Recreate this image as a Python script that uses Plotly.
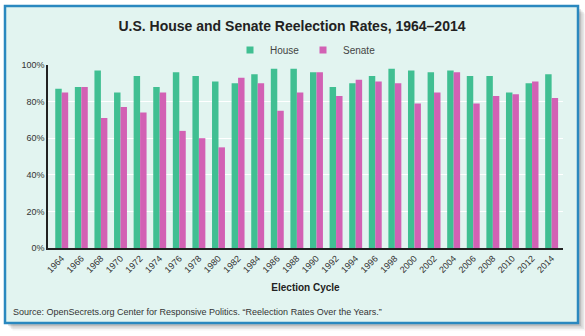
import plotly.graph_objects as go

# Reelection rates by election cycle (percent of incumbents re-elected)
years = [str(y) for y in range(1964, 2015, 2)]
house = [87, 88, 97, 85, 94, 88, 96, 94, 91, 90, 95, 98, 98,
         96, 88, 90, 94, 98, 97, 96, 97, 94, 94, 85, 90, 95]
senate = [85, 88, 71, 77, 74, 85, 64, 60, 55, 93, 90, 75, 85,
          96, 83, 92, 91, 90, 79, 85, 96, 79, 83, 84, 91, 82]
y_ticks = [0, 20, 40, 60, 80, 100]
y_tick_labels = ["0%", "20%", "40%", "60%", "80%", "100%"]

W, H = 585, 336
L, R, T, B = 48, 22, 65, 88
PW, PH = W - L - R, H - T - B


def px_x(x):
    return (x - L) / PW


def px_y(y):
    return (H - B - y) / PH


GREEN = "#40bf92"
PINK = "#d261b4"
BG = "#e2f4f0"
FONT = "Liberation Sans, Arial, sans-serif"

fig = go.Figure()
fig.add_trace(go.Bar(x=years, y=house, name="House", marker_color=GREEN,
                     marker_line_width=0, showlegend=False))
fig.add_trace(go.Bar(x=years, y=senate, name="Senate", marker_color=PINK,
                     marker_line_width=0, showlegend=False))
# small square legend keys
for name, col in [("House", GREEN), ("Senate", PINK)]:
    fig.add_trace(go.Scatter(x=[None], y=[None], mode="markers", name=name,
                             marker=dict(symbol="square", size=7, color=col)))

shapes = []
# soft drop shadow behind the card
for i, op in enumerate([0.10, 0.08, 0.06, 0.04]):
    d = 2 + i * 1.5
    shapes.append(dict(type="rect", xref="paper", yref="paper", layer="below",
                       x0=px_x(6 + d), x1=px_x(579 + d),
                       y0=px_y(7 + d), y1=px_y(324 + d),
                       line_width=0, fillcolor=f"rgba(0,0,0,{op})"))
# card with blue border
shapes.append(dict(type="rect", xref="paper", yref="paper", layer="below",
                   x0=px_x(5), x1=px_x(578), y0=px_y(6), y1=px_y(323),
                   line=dict(color="#2a88bf", width=2.5), fillcolor=BG))

fig.update_layout(
    width=W, height=H,
    margin=dict(l=L, r=R, t=T, b=B, autoexpand=False),
    paper_bgcolor="white",
    plot_bgcolor="rgba(0,0,0,0)",
    barmode="group",
    bargap=0.34,
    bargroupgap=0,
    shapes=shapes,
    font=dict(family=FONT, color="#333333", size=9),
    title=dict(text="<b>U.S. House and Senate Reelection Rates, 1964–2014</b>",
               x=px_x(292), xref="paper", xanchor="center",
               y=1 - 26 / H, yanchor="middle",
               font=dict(size=14, color="#222222", family=FONT)),
    legend=dict(orientation="h", x=px_x(230), xanchor="left",
                y=px_y(50), yanchor="middle",
                font=dict(size=10, color="#444444"),
                bgcolor="rgba(0,0,0,0)", itemwidth=30,
                entrywidth=28, entrywidthmode="pixels"),
    xaxis=dict(type="category", range=[-0.70, 25.58], tickangle=-45,
               showgrid=False, showline=True, linecolor="#222222",
               linewidth=1.5, ticks="", tickfont=dict(size=9),
               title=dict(text="<b>Election Cycle</b>", standoff=10,
                          font=dict(size=10, color="#222222"))),
    yaxis=dict(range=[0, 100], tickmode="array", tickvals=y_ticks,
               ticktext=y_tick_labels,
               showgrid=True, gridcolor="white", gridwidth=1.2,
               showline=True, linecolor="#222222", linewidth=1.5,
               zeroline=False, ticks="", tickfont=dict(size=9),
               fixedrange=True),
    annotations=[dict(text="Source: OpenSecrets.org Center for Responsive Politics. \u201cReelection Rates Over the Years.\u201d",
                      xref="paper", yref="paper", x=px_x(11), y=px_y(312),
                      xanchor="left", yanchor="middle", showarrow=False,
                      font=dict(size=9, color="#333333"))],
)

fig.write_html("out.html")
